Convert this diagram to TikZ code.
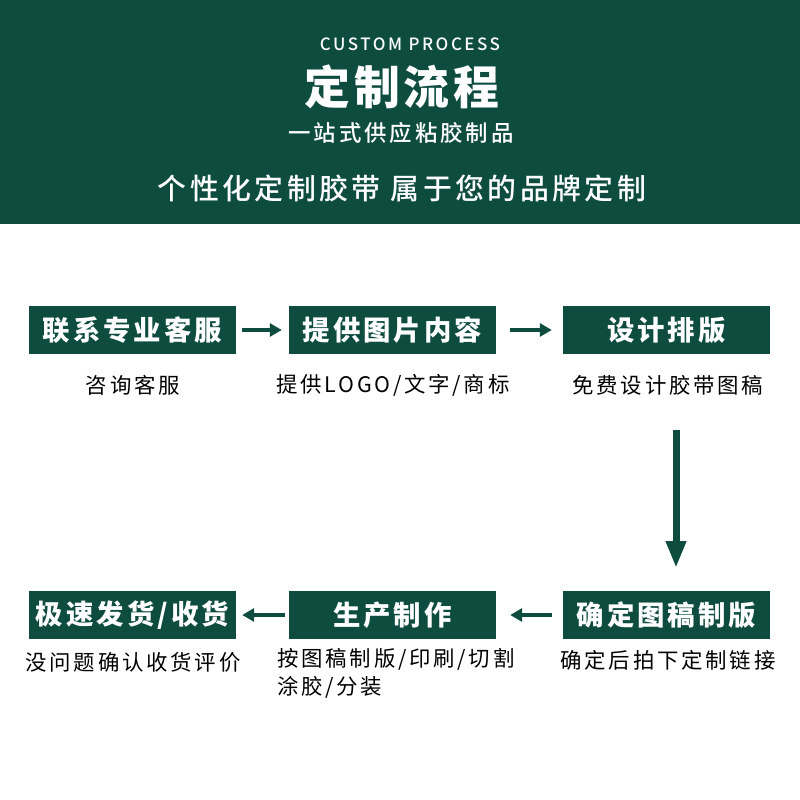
\documentclass[tikz,border=0pt]{standalone}
\usepackage{fontspec}
\setmainfont{Noto Sans CJK SC}
\newfontfamily\medfont{Noto Sans CJK SC Medium}
\usetikzlibrary{arrows.meta}
\definecolor{dg}{RGB}{14,76,64}
\begin{document}
\begin{tikzpicture}[x=1bp,y=-1bp,
 box/.style={fill=dg,text=white,minimum width=207bp,minimum height=48bp,inner sep=0pt,font=\fontsize{27.5}{30}\selectfont\bfseries\addfontfeature{LetterSpace=11}},
 sub/.style={text=black,inner sep=0pt,font=\fontsize{21.5}{28}\selectfont\addfontfeature{LetterSpace=13}},
 htext/.style={text=white,inner sep=0pt},
 harr/.style={draw=dg,line width=4bp,-{Triangle[length=12bp,width=13bp]}},
 varr/.style={draw=dg,line width=7bp,-{Triangle[length=27bp,width=19bp]}}]
\useasboundingbox (0,0) rectangle (800,800);
\fill[white] (0,0) rectangle (800,800);
\fill[dg] (0,0) rectangle (800,224);
% header
\node[htext,font=\medfont\fontsize{17}{17}\selectfont\addfontfeature{LetterSpace=15}] (h1) at (410,44) {CUSTOM PROCESS};
\node[htext,font=\fontsize{46}{46}\selectfont\bfseries\addfontfeature{LetterSpace=8}] (h2) at (402,87) {定制流程};
\node[htext,font=\medfont\fontsize{22.5}{22}\selectfont\addfontfeature{LetterSpace=13}] (h3) at (401,133) {一站式供应粘胶制品};
\node[htext,font=\medfont\fontsize{29}{29}\selectfont\addfontfeature{LetterSpace=12}] (h4) at (402,188) {个性化定制胶带 属于您的品牌定制};
% boxes
\node[box] (b1) at (132.5,330) {联系专业客服};
\node[box] (b2) at (392.5,330) {提供图片内容};
\node[box] (b3) at (666.5,330) {设计排版};
\node[box] (b4) at (132.5,615) {极速发货/收货};
\node[box] (b5) at (392.5,615) {生产制作};
\node[box] (b6) at (666.5,615) {确定图稿制版};
% captions
\node[sub] (t1) at (133,385) {咨询客服};
\node[sub] (t2) at (393,385) {提供LOGO/文字/商标};
\node[sub] (t3) at (668,385) {免费设计胶带图稿};
\node[sub] (t4) at (133,662) {没问题确认收货评价};
\node[sub,anchor=north west,align=left] (t5) at (277,648) {按图稿制版/印刷/切割\\涂胶/分装};
\node[sub] (t6) at (668,660) {确定后拍下定制链接};
% arrows
\draw[harr,shorten <=6bp,shorten >=7bp] (b1) -- (b2);
\draw[harr,shorten <=14bp,shorten >=11bp] (b2) -- (b3);
\coordinate (v1) at (676,430);
\coordinate (v2) at (676,568);
\draw[varr] (v1) -- (v2);
\draw[harr,shorten <=11bp,shorten >=14bp] (b6) -- (b5);
\draw[harr,shorten <=4bp,shorten >=6bp] (b5) -- (b4);
\end{tikzpicture}
\end{document}
